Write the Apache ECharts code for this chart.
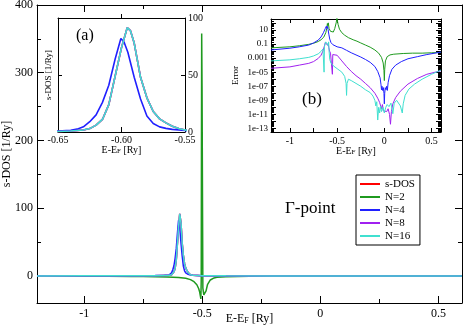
<!DOCTYPE html>
<html>
<head>
<meta charset="utf-8">
<script src="https://cdn.jsdelivr.net/npm/echarts@6/dist/echarts.min.js"></script>
<style>
html, body { margin: 0; padding: 0; background: #fff; }
#chart { width: 464px; height: 334px; }
</style>
</head>
<body>
<div id="chart"></div>
<script>
// series names / colours
var seriesNames = ['s-DOS', 'N=2', 'N=4', 'N=8', 'N=16'];
var seriesColors = ['#ff0000', '#1f9a1f', '#2020ff', '#a020f0', '#40e0d0'];

// main plot: s-DOS [1/Ry] vs E-E_F [Ry]
var dosN2 = [[-1.2,-0.3],[-1.0,-0.4],[-0.9,-0.5],[-0.8,-0.7],[-0.75,-0.9],[-0.7,-1.1],[-0.65,-1.5],[-0.6,-2.2],
  [-0.57,-3.5],[-0.55,-5.5],[-0.535,-8.5],[-0.523,-13],[-0.515,-19],[-0.511,-24],[-0.508,-30],[-0.506,-34],
  [-0.5045,-8],[-0.5035,180],[-0.5025,358],[-0.501,280],[-0.4988,90],[-0.4975,-18],[-0.4935,-28],[-0.4885,-30.5],
  [-0.484,-22],[-0.478,-13],[-0.466,-6],[-0.45,-3],[-0.438,-2],[-0.4,-1.2],[-0.3,-0.5],[-0.2,-0.2],[0,0],[0.6,0]];
var dosN4 = [[-1.2,0.1],[-1.0,0.15],[-0.8,0.3],[-0.7,0.5],[-0.66,0.8],[-0.65,0.9],[-0.64,1.5],[-0.635,2.5],
  [-0.63,4.5],[-0.625,9],[-0.62,15],[-0.615,26],[-0.61,41],[-0.605,64],[-0.6005,82],[-0.598,79],[-0.595,70],
  [-0.59,48],[-0.585,29],[-0.58,14],[-0.575,7.5],[-0.57,4.5],[-0.565,3.2],[-0.56,2.3],[-0.55,1.3],[-0.54,0.8],
  [-0.5,0.4],[-0.4,0.15],[-0.2,0.05],[0,0],[0.6,0]];
var dosN16 = [[-1.2,0.05],[-1.0,0.08],[-0.8,0.15],[-0.7,0.3],[-0.66,0.5],[-0.65,0.5],[-0.64,0.9],[-0.63,1.8],
  [-0.625,3],[-0.62,6],[-0.615,11],[-0.61,24],[-0.605,49],[-0.6,74],[-0.5955,91.5],[-0.593,89],[-0.59,78],
  [-0.585,48],[-0.58,30],[-0.575,18],[-0.57,11.5],[-0.565,8],[-0.56,5],[-0.555,3],[-0.55,1.8],[-0.54,1.0],
  [-0.5,0.4],[-0.4,0.15],[-0.2,0.05],[0,0],[0.6,0]];
// s-DOS and N=8 lie under the N=16 curve
var dosRef = dosN16;
var dosN8 = dosN16;

// inset (b): log10 of the error
var errN2Log = [[-1.2,-1.55],[-1.0,-1.4],[-0.9,-1.25],[-0.8,-1.05],[-0.75,-0.9],[-0.7,-0.65],[-0.67,-0.4],
  [-0.64,0.0],[-0.62,0.6],[-0.61,1.2],[-0.603,1.9],[-0.598,1.6],[-0.593,2.0],[-0.585,1.2],[-0.57,0.8],
  [-0.555,0.6],[-0.54,0.7],[-0.525,1.2],[-0.51,2.0],[-0.502,2.7],[-0.497,2.7],[-0.49,1.8],[-0.475,1.1],
  [-0.45,0.6],[-0.42,0.25],[-0.38,-0.1],[-0.33,-0.4],[-0.29,-0.6],[-0.25,-0.85],[-0.2,-1.15],[-0.15,-1.45],
  [-0.1,-1.85],[-0.06,-2.3],[-0.03,-2.9],[-0.012,-3.7],[-0.004,-4.8],[0,-6.2],[0.004,-4.6],[0.012,-3.4],
  [0.03,-2.8],[0.06,-2.55],[0.1,-2.45],[0.2,-2.35],[0.3,-2.3],[0.4,-2.3],[0.5,-2.25],[0.6,-2.2]];
var errN4Log = [[-1.2,-1.85],[-1.0,-1.6],[-0.9,-1.4],[-0.8,-1.15],[-0.75,-0.85],[-0.7,-0.45],[-0.67,0.0],
  [-0.645,0.6],[-0.625,1.2],[-0.615,1.5],[-0.608,1.2],[-0.603,1.5],[-0.596,1.1],[-0.588,0.4],[-0.578,-0.3],
  [-0.565,-0.8],[-0.545,-1.1],[-0.5,-1.4],[-0.45,-1.55],[-0.4,-1.9],[-0.35,-2.25],[-0.3,-2.55],[-0.25,-2.85],
  [-0.2,-3.2],[-0.15,-3.6],[-0.1,-4.2],[-0.07,-4.9],[-0.045,-5.8],[-0.035,-6.8],[-0.03,-7.5],[-0.025,-7.0],
  [-0.018,-7.6],[-0.01,-7.2],[-0.004,-8.0],[0,-9.5],[0.004,-8.0],[0.01,-7.2],[0.018,-7.5],[0.025,-7.0],
  [0.032,-7.6],[0.04,-6.5],[0.055,-5.5],[0.08,-4.6],[0.12,-4.0],[0.18,-3.5],[0.25,-3.1],[0.35,-2.8],
  [0.45,-2.5],[0.6,-2.15]];
var errN8Log = [[-1.2,-4.45],[-1.0,-4.25],[-0.9,-4.0],[-0.8,-3.75],[-0.75,-3.5],[-0.7,-3.05],[-0.67,-2.6],
  [-0.65,-2.0],[-0.635,-1.3],[-0.625,-0.8],[-0.618,-0.6],[-0.612,-1.0],[-0.606,-0.7],[-0.6,-1.2],[-0.594,-0.9],
  [-0.588,-1.5],[-0.58,-2.0],[-0.57,-2.3],[-0.555,-2.5],[-0.55,-5.3],[-0.546,-2.5],[-0.53,-2.3],[-0.5,-2.6],
  [-0.45,-3.4],[-0.4,-4.2],[-0.35,-4.9],[-0.3,-5.5],[-0.25,-6.0],[-0.2,-6.6],[-0.15,-7.2],[-0.1,-8.0],
  [-0.07,-8.7],[-0.05,-9.3],[-0.03,-10.2],[-0.02,-9.6],[-0.01,-10.5],[0,-10.4],[0.01,-10.3],[0.025,-10.6],
  [0.04,-10.2],[0.055,-11.0],[0.065,-12.4],[0.075,-10.6],[0.09,-9.5],[0.12,-8.6],[0.17,-7.7],[0.25,-6.7],
  [0.35,-5.9],[0.45,-5.3],[0.6,-4.8]];
var errN16Log = [[-1.2,-3.4],[-1.0,-3.25],[-0.9,-3.1],[-0.8,-2.9],[-0.75,-2.7],[-0.7,-2.4],[-0.67,-2.05],
  [-0.65,-1.7],[-0.643,-1.5],[-0.638,-5.0],[-0.634,-1.4],[-0.628,-1.0],[-0.62,-0.7],[-0.612,-0.7],[-0.606,-0.9],
  [-0.6,-0.6],[-0.595,-1.2],[-0.59,-0.7],[-0.585,-2.0],[-0.578,-3.2],[-0.565,-3.7],[-0.54,-4.1],[-0.5,-4.5],
  [-0.45,-5.0],[-0.42,-5.6],[-0.405,-6.6],[-0.4,-8.3],[-0.395,-6.6],[-0.38,-6.0],[-0.35,-6.2],[-0.3,-6.6],
  [-0.25,-7.0],[-0.2,-7.5],[-0.15,-7.9],[-0.12,-8.4],[-0.1,-9.0],[-0.09,-9.8],[-0.08,-9.2],[-0.07,-11.8],
  [-0.06,-10.0],[-0.05,-10.8],[-0.04,-9.8],[-0.03,-10.6],[-0.015,-10.0],[0,-10.8],[0.015,-10.0],[0.03,-9.6],
  [0.05,-9.9],[0.07,-9.4],[0.09,-10.9],[0.105,-9.4],[0.13,-9.0],[0.15,-9.2],[0.17,-9.8],[0.19,-10.8],
  [0.2,-9.5],[0.22,-8.3],[0.26,-7.4],[0.32,-6.7],[0.4,-6.0],[0.5,-5.3],[0.6,-4.7]];

// ticks and tick labels
var mainXTicks = [-1, -0.5, 0, 0.5];
var mainXMinor = [-0.75, -0.25, 0.25];
var mainYTicks = [0, 100, 200, 300, 400];
var mainYMinor = [50, 150, 250, 350];
var insetAXTicks = [-0.65, -0.6, -0.55];
var insetAYTicks = [0, 50, 100];
var errXTicks = [-1, -0.5, 0, 0.5];
var errXAll = [-1, -0.75, -0.5, -0.25, 0, 0.25, 0.5];
var errTickValues = [1, -1, -3, -5, -7, -9, -11, -13];
var errTickLabels = ['10', '0.1', '0.001', '1e-05', '1e-07', '1e-09', '1e-11', '1e-13'];

var FONT = 'Liberation Serif';
var BLACK = '#000';
var errYMin = -13.5, errYMax = 2.55;

var errDecades = [], errMinor = [];
for (var d = -14; d <= 3; d++) {
    if (d >= errYMin && d <= errYMax) errDecades.push(d);
    for (var k = 2; k <= 9; k++) {
        var t = d + Math.log10(k);
        if (t >= errYMin && t <= errYMax) errMinor.push(t);
    }
}

function ticks(values, len, outside) {
    return {show: true, inside: !outside, length: len, customValues: values,
        lineStyle: {color: BLACK, width: 1}};
}
function labels(values, size, margin, fmt) {
    var l = {show: true, customValues: values, color: BLACK, fontFamily: FONT, fontSize: size, margin: margin};
    if (fmt) l.formatter = fmt;
    return l;
}
function axis(grid, pos, min, max, tick, label, line, extra) {
    var a = {
        type: 'value', gridIndex: grid, position: pos, min: min, max: max,
        splitLine: {show: false},
        axisLine: {show: !!line, onZero: false, lineStyle: {color: BLACK, width: 1}},
        axisTick: tick || {show: false},
        axisLabel: label || {show: false}
    };
    if (extra) for (var key in extra) a[key] = extra[key];
    return a;
}
function efName(size, gap) {
    return {
        name: '{n|E-E}{s|F}{n| [Ry]}',
        nameLocation: 'middle',
        nameGap: gap,
        nameMoveOverlap: false,
        nameTextStyle: {
            rich: {
                n: {fontFamily: FONT, fontSize: size, color: BLACK, padding: [0, 0, 3, 0]},
                s: {fontFamily: FONT, fontSize: Math.round(size * 0.7), color: BLACK}
            }
        }
    };
}
function yName(text, size, gap) {
    return {name: text, nameLocation: 'middle', nameGap: gap, nameMoveOverlap: false,
        nameTextStyle: {fontFamily: FONT, fontSize: size, color: BLACK}};
}

var mainRect = {left: 37, top: 5, width: 425, height: 298};
var insetARect = {left: 58, top: 18, width: 127, height: 114};
var insetBRect = {left: 271, top: 19, width: 170, height: 113};
function gridOf(r, bg) {
    return {left: r.left, top: r.top, width: r.width, height: r.height,
        containLabel: false, outerBoundsMode: 'none',
        show: !!bg, backgroundColor: '#fff', borderWidth: 0};
}

var xAxes = [
    axis(0, 'bottom', -1.2, 0.6, ticks(mainXTicks, 7), labels(mainXTicks, 12, 5), true, efName(12, 10)),
    axis(0, 'top', -1.2, 0.6, ticks(mainXTicks, 7), null, true),
    axis(1, 'bottom', -1.2, 0.6, ticks(mainXMinor, 4), null, false),
    axis(1, 'top', -1.2, 0.6, ticks(mainXMinor, 4), null, false),
    axis(2, 'bottom', -0.65, -0.55, ticks(insetAXTicks, 5), labels(insetAXTicks, 10, 3, function (v) { return v.toFixed(2); }), true, efName(10, 13)),
    axis(2, 'top', -0.65, -0.55, ticks([-0.6], 4, true), null, true),
    axis(3, 'bottom', -1.2, 0.6, ticks(errXAll, 4), labels(errXTicks, 10, 4), true, efName(10, 14)),
    axis(3, 'top', -1.2, 0.6, ticks(errXAll, 4), null, true),
    axis(4, 'bottom', -1.2, 0.6, null, null, false)
];
var yAxes = [
    axis(0, 'left', -40, 400, ticks(mainYTicks, 7), labels(mainYTicks, 12, 4), true, yName('s-DOS [1/Ry]', 12, 24)),
    axis(0, 'right', -40, 400, ticks(mainYTicks, 7), null, true),
    axis(1, 'left', -40, 400, ticks(mainYMinor, 4), null, false),
    axis(1, 'right', -40, 400, ticks(mainYMinor, 4), null, false),
    axis(2, 'left', 0, 100, ticks([50], 4), null, true, yName('s-DOS [1/Ry]', 9, 5)),
    axis(2, 'right', 0, 100, ticks(insetAYTicks, 4), labels(insetAYTicks, 10, 3), true),
    axis(3, 'left', errYMin, errYMax, ticks(errDecades, 5), labels(errTickValues, 9, 3, function (v) {
        var i = errTickValues.indexOf(Math.round(v));
        return i >= 0 ? errTickLabels[i] : '';
    }), true, yName('Error', 9, 31)),
    axis(3, 'right', errYMin, errYMax, ticks(errDecades, 5), null, true),
    axis(4, 'left', errYMin, errYMax, ticks(errMinor, 3), null, false),
    axis(4, 'right', errYMin, errYMax, ticks(errMinor, 3), null, false)
];

function line(i, data, xi, yi, w) {
    return {
        name: seriesNames[i], type: 'line', data: data, xAxisIndex: xi, yAxisIndex: yi,
        showSymbol: false, symbol: 'none', clip: true, smooth: false,
        lineStyle: {color: seriesColors[i], width: w}, itemStyle: {color: seriesColors[i]}
    };
}

var dosData = [dosRef, dosN2, dosN4, dosN8, dosN16];
var errData = [null, errN2Log, errN4Log, errN8Log, errN16Log];
var series = [];
dosData.forEach(function (d, i) { series.push(line(i, d, 0, 0, 1.5)); });
dosData.forEach(function (d, i) { series.push(line(i, d, 4, 4, 1.6)); });
errData.forEach(function (d, i) { if (d) series.push(line(i, d, 6, 6, 1)); });

var chart = echarts.init(document.getElementById('chart'), null, {renderer: 'canvas'});
chart.setOption({
    animation: false,
    backgroundColor: '#fff',
    grid: [gridOf(mainRect, false), gridOf(mainRect, false), gridOf(insetARect, true), gridOf(insetBRect, true), gridOf(insetBRect, false)],
    xAxis: xAxes,
    yAxis: yAxes,
    legend: {
        data: seriesNames, orient: 'vertical', left: 356, top: 175,
        icon: 'rect', itemWidth: 20, itemHeight: 2, itemGap: 1,
        padding: [3, 5, 3, 4], borderColor: BLACK, borderWidth: 1, backgroundColor: '#fff',
        selectedMode: false,
        textStyle: {fontFamily: FONT, fontSize: 11, color: BLACK, lineHeight: 12}
    },
    graphic: [
        {type: 'text', left: 285, top: 200, style: {text: '\u0393-point', fontFamily: FONT, fontSize: 17, fill: BLACK}},
        {type: 'text', left: 76, top: 28, style: {text: '(a)', fontFamily: FONT, fontSize: 16, fill: BLACK}},
        {type: 'text', left: 302, top: 91, style: {text: '(b)', fontFamily: FONT, fontSize: 17, fill: BLACK}}
    ],
    series: series
});
</script>
</body>
</html>
